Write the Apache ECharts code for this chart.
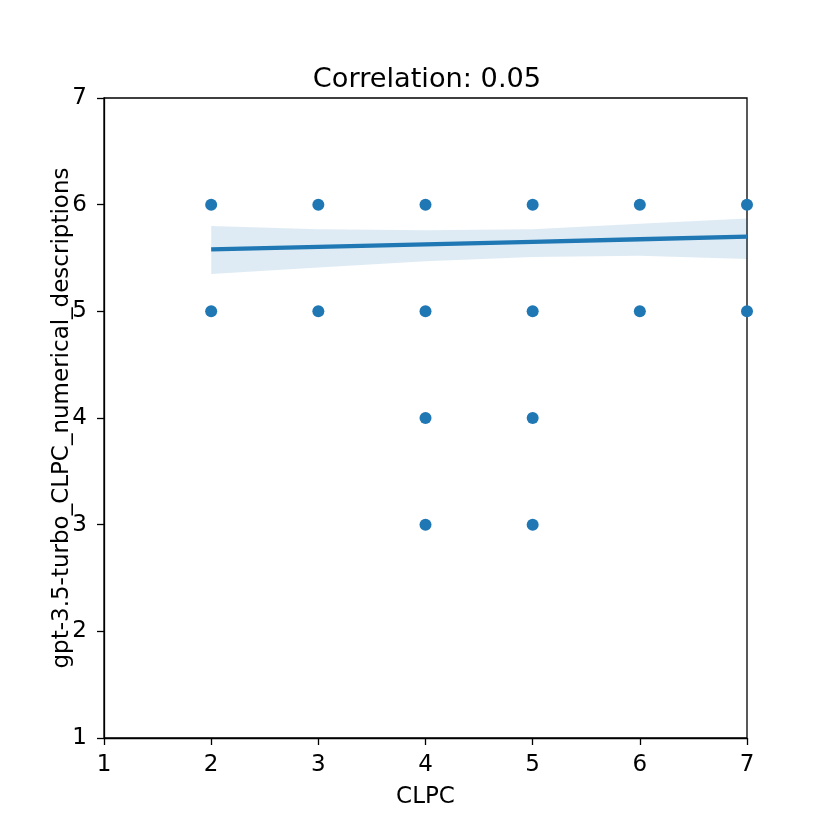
<!DOCTYPE html>
<html>
<head>
<meta charset="utf-8">
<script src="https://cdn.jsdelivr.net/npm/echarts@6/dist/echarts.min.js"></script>
<style>
  html, body { margin: 0; padding: 0; background: #fff; }
  #chart { width: 830px; height: 830px; }
</style>
</head>
<body>
<div id="chart"></div>
<script>
// 散点数据 (CLPC, gpt-3.5-turbo 评分)
var clpc = [2, 2, 3, 3, 4, 4, 4, 4, 5, 5, 5, 5, 6, 6, 7, 7];
var gptScore = [6, 5, 6, 5, 6, 5, 4, 3, 6, 5, 4, 3, 6, 5, 6, 5];

// 回归线与置信区间
var fitX = [2, 3, 4, 5, 6, 7];
var fitY = [5.58, 5.604, 5.628, 5.652, 5.676, 5.70];
var bandLow = [5.35, 5.41, 5.47, 5.51, 5.52, 5.49];
var bandHigh = [5.80, 5.77, 5.76, 5.77, 5.82, 5.87];

var axisTicks = [1, 2, 3, 4, 5, 6, 7];
var titleText = 'Correlation: 0.05';

var myChart = echarts.init(document.getElementById('chart'));

var points = [];
for (var i = 0; i < clpc.length; i++) {
    points.push([clpc[i], gptScore[i]]);
}
var lineData = [];
for (var j = 0; j < fitX.length; j++) {
    lineData.push([fitX[j], fitY[j]]);
}

var font = 'DejaVu Sans';
var blue = '#1f77b4';
var labelSize = 23;

// 置信带: 上沿 + 反向下沿 组成多边形
function renderBand(params, api) {
    if (params.dataIndex !== 0) return;
    var pts = [];
    for (var k = 0; k < fitX.length; k++) {
        pts.push(api.coord([fitX[k], bandHigh[k]]));
    }
    for (var m = fitX.length - 1; m >= 0; m--) {
        pts.push(api.coord([fitX[m], bandLow[m]]));
    }
    return {
        type: 'polygon',
        shape: { points: pts },
        style: { fill: blue, opacity: 0.15 },
        silent: true
    };
}

var option = {
    backgroundColor: '#fff',
    animation: false,
    title: {
        text: titleText,
        left: 422,
        textAlign: 'center',
        top: 61,
        textStyle: { fontFamily: font, fontSize: 27.2, fontWeight: 'normal', color: '#000' }
    },
    grid: {
        left: 104,
        right: 83,
        top: 98,
        bottom: 92,
        show: true,
        borderColor: '#000',
        borderWidth: 1.3
    },
    xAxis: {
        type: 'value',
        min: 1,
        max: 7,
        interval: 1,
        name: 'CLPC',
        nameLocation: 'middle',
        nameGap: 48,
        nameMoveOverlap: false,
        nameTextStyle: { fontFamily: font, fontSize: labelSize, color: '#000' },
        splitLine: { show: false },
        axisLine: { show: true, lineStyle: { color: '#000', width: 1.3 } },
        axisTick: { show: true, length: 7, lineStyle: { color: '#000', width: 1.3 } },
        axisLabel: {
            fontFamily: font, fontSize: labelSize, color: '#000', margin: 16,
            formatter: function (v) { return axisTicks.indexOf(v) >= 0 ? String(v) : ''; }
        }
    },
    yAxis: {
        type: 'value',
        min: 1,
        max: 7,
        interval: 1,
        name: 'gpt-3.5-turbo_CLPC_numerical_descriptions',
        nameLocation: 'middle',
        nameGap: 30,
        nameMoveOverlap: false,
        nameTextStyle: { fontFamily: font, fontSize: labelSize, color: '#000' },
        splitLine: { show: false },
        axisLine: { show: true, lineStyle: { color: '#000', width: 1.3 } },
        axisTick: { show: true, length: 7, lineStyle: { color: '#000', width: 1.3 } },
        axisLabel: {
            fontFamily: font, fontSize: labelSize, color: '#000', margin: 17,
            formatter: function (v) { return axisTicks.indexOf(v) >= 0 ? String(v) : ''; }
        }
    },
    series: [
        {
            name: 'band',
            type: 'custom',
            data: [[fitX[0], bandLow[0]]],
            renderItem: renderBand,
            silent: true,
            z: 1
        },
        {
            name: 'scatter',
            type: 'scatter',
            data: points,
            symbolSize: 12,
            itemStyle: { color: blue, opacity: 1 },
            z: 3
        },
        {
            name: 'fit',
            type: 'line',
            data: lineData,
            symbol: 'none',
            lineStyle: { color: blue, width: 4.3 },
            z: 4
        }
    ]
};

myChart.setOption(option);
</script>
</body>
</html>
